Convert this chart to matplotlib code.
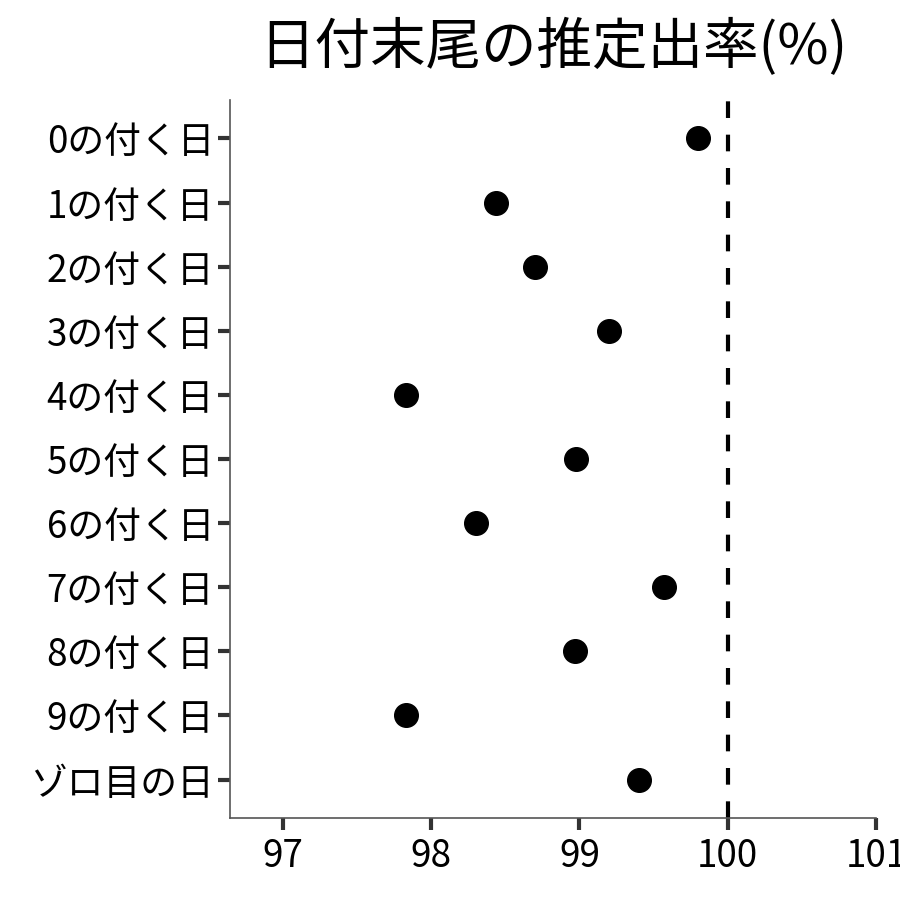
import matplotlib
matplotlib.use("Agg")
import matplotlib.pyplot as plt

plt.rcParams['font.family'] = ['Noto Sans CJK JP', 'DejaVu Sans']

categories = ['0の付く日', '1の付く日', '2の付く日', '3の付く日', '4の付く日',
              '5の付く日', '6の付く日', '7の付く日', '8の付く日', '9の付く日',
              'ゾロ目の日']
rates = [99.80, 98.44, 98.70, 99.20, 97.83, 98.98, 98.30, 99.57, 98.97, 97.83, 99.40]
xticks = [97, 98, 99, 100, 101]
ref_line = 100

fig = plt.figure(figsize=(9, 9), dpi=100)
ax = fig.add_axes([0.2556, 0.0911, 0.7178, 0.7978])

ypos = list(range(len(categories)))
ax.axvline(ref_line, color='black', linestyle=(0, (4, 4)), linewidth=3, zorder=1)
ax.plot(rates, ypos, 'o', color='black', markersize=17, linestyle='none', zorder=3)

ax.set_xlim(96.645, 101)
ax.set_ylim(len(categories) - 0.4, -0.6)
ax.set_xticks(xticks)
ax.set_xticklabels([str(v) for v in xticks])
ax.set_yticks(ypos)
ax.set_yticklabels(categories)

for s in ['top', 'right']:
    ax.spines[s].set_visible(False)
for s in ['left', 'bottom']:
    ax.spines[s].set_color('#555555')
    ax.spines[s].set_linewidth(1.2)

ax.tick_params(axis='both', labelsize=26.5, length=8.5, width=3, color='#333333',
               labelcolor='black')
ax.tick_params(axis='y', pad=3)
ax.tick_params(axis='x', pad=5)

fig.suptitle('日付末尾の推定出率(%)', fontsize=40, x=0.6144, y=0.979, va='top')

fig.savefig('out.png', dpi=100)
